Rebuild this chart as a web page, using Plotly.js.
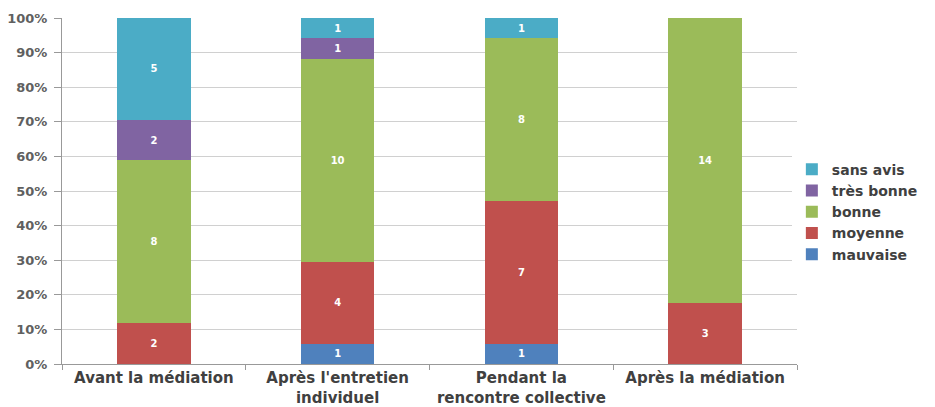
<!DOCTYPE html>
<html>
<head>
<meta charset="utf-8">
<script src="https://cdn.plot.ly/plotly-3.0.1.min.js"></script>
<style>body{margin:0;background:#fff}#chart{width:935px;height:407px}</style>
</head>
<body>
<div id="chart"></div>
<script>
const categories = ["Avant la médiation", "Après l'entretien<br>individuel", "Pendant la<br>rencontre collective", "Après la médiation"];
const mauvaise = [0, 1, 1, 0];
const moyenne = [2, 4, 7, 3];
const bonne = [8, 10, 8, 14];
const tresBonne = [2, 1, 0, 0];
const sansAvis = [5, 1, 1, 0];
const seriesNames = ["mauvaise", "moyenne", "bonne", "très bonne", "sans avis"];
const seriesColors = ["#4F81BD", "#C0504D", "#9BBB59", "#8064A2", "#4BACC6"];
const seriesValues = [mauvaise, moyenne, bonne, tresBonne, sansAvis];

const traces = seriesValues.map((vals, i) => ({
  type: 'bar',
  name: seriesNames[i],
  x: categories,
  y: vals,
  marker: {color: seriesColors[i]},
  text: vals.map(v => v === 0 ? '' : String(v)),
  textposition: 'inside',
  insidetextanchor: 'middle',
  textfont: {color: '#ffffff', size: 10, family: '"DejaVu Sans", sans-serif', weight: 'bold'},
  hoverinfo: 'name+y'
}));

const layout = {
  width: 935, height: 407,
  margin: {l: 62, r: 135, t: 18, b: 43},
  barmode: 'stack',
  barnorm: 'percent',
  bargap: 0.6,
  paper_bgcolor: '#fff', plot_bgcolor: '#fff',
  font: {family: '"DejaVu Sans", sans-serif', color: '#404040'},
  xaxis: {
    tickson: 'boundaries', ticks: 'outside', ticklen: 5, tickcolor: '#999',
    showline: true, linecolor: '#999', linewidth: 1,
    tickangle: 0, automargin: false,
    ticklabelstandoff: 0,
    tickfont: {size: 15, color: '#404040', weight: 'bold'}
  },
  yaxis: {
    range: [0, 100], tickvals: [0,10,20,30,40,50,60,70,80,90,100],
    ticktext: ['0%','10%','20%','30%','40%','50%','60%','70%','80%','90%','100%'],
    ticks: 'outside', ticklen: 7, tickcolor: '#999',
    showline: true, linecolor: '#999', linewidth: 1,
    gridcolor: '#d0d0d0', zeroline: false,
    ticklabelstandoff: 4,
    tickfont: {size: 13, color: '#606060', weight: 'bold'}
  },
  legend: {
    x: 0.993, y: 0.44, xanchor: 'left', yanchor: 'middle',
    traceorder: 'reversed', font: {size: 14, color: '#404040', weight: 'bold'},
    itemwidth: 30, tracegroupgap: 0
  },
  bargroupgap: 0
};

Plotly.newPlot('chart', traces, layout, {displayModeBar: false, staticPlot: true});
</script>
</body>
</html>
